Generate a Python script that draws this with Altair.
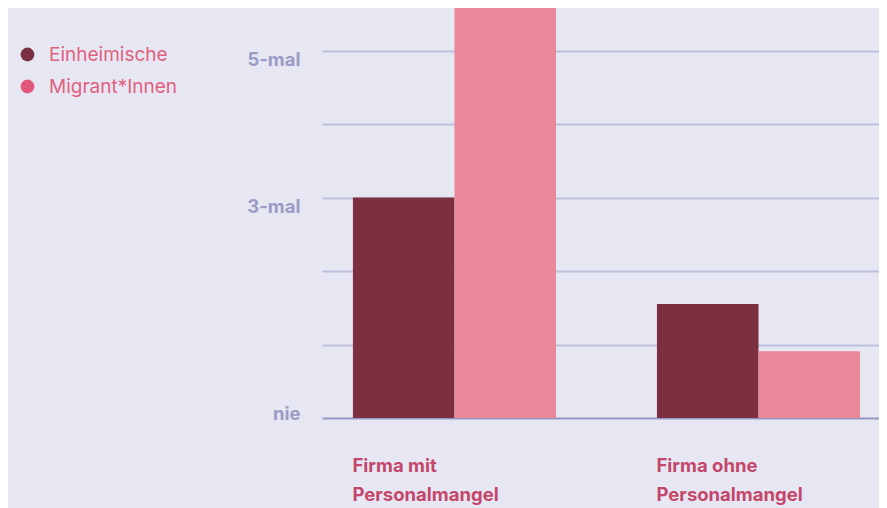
import altair as alt
import pandas as pd

groups = ["Firma mit|Personalmangel", "Firma ohne|Personalmangel"]
series = ["Einheimische", "Migrant*Innen"]
einheimische = [3.0, 1.55]
migranten = [5.58, 0.91]
y_ticks = [0, 1, 2, 3, 4, 5]
y_tick_labels = ["nie", "", "", "3-mal", "", "5-mal"]

bar_colors = ["#7b2f40", "#e9899a"]
legend_colors = ["#7a2f42", "#e0577a"]

rows = []
for g, a, b in zip(groups, einheimische, migranten):
    rows.append({"group": g, "series": series[0], "value": a})
    rows.append({"group": g, "series": series[1], "value": b})
df = pd.DataFrame(rows)

label_map = "{" + ",".join(f"'{v}':'{l}'" for v, l in zip(y_ticks, y_tick_labels)) + "}"
y_label_expr = f"{label_map}[datum.value + '']"

x_enc = alt.X(
    "group:N", sort=groups,
    scale=alt.Scale(paddingInner=0.332, paddingOuter=0.082, align=0.62),
    axis=alt.Axis(
        title=None, labelExpr="split(datum.label, '|')",
        labelAlign="left", labelBaseline="top", labelPadding=38, labelAngle=0,
        labelOffset=-102,
        labelFontSize=18.5, labelFont="Inter", labelFontWeight="bold",
        labelColor="#c4466a", labelLineHeight=29, ticks=False, domain=False, grid=False,
    ),
)
y_enc = alt.Y(
    "value:Q",
    scale=alt.Scale(domain=[0, 5.58], nice=False, zero=True),
    axis=alt.Axis(
        title=None, values=y_ticks, labelExpr=y_label_expr, grid=True,
        gridColor={"condition": {"test": "datum.value == 0", "value": "#9598c2"}, "value": "#bcc0dc"},
        gridWidth=2, ticks=False, domain=False, labelPadding=22,
        labelFontSize=18.5, labelFont="Inter", labelFontWeight="bold",
        labelColor="#9a9cc5", labelBaseline="middle",
        labelOffset={"condition": {"test": "datum.value == 0", "value": -5}, "value": 9},
    ),
)

bars = alt.Chart(df).mark_bar().encode(
    x=x_enc,
    xOffset=alt.XOffset("series:N", sort=series, scale=alt.Scale(paddingInner=0, paddingOuter=0)),
    y=y_enc,
    color=alt.Color("series:N", scale=alt.Scale(domain=series, range=bar_colors), legend=None),
)

legend_df = pd.DataFrame({"series": series, "group": [groups[0]] * 2, "value": [0, 0]})
legend_layer = alt.Chart(legend_df).mark_point(filled=True, opacity=0).encode(
    x=alt.X("group:N", sort=groups),
    y=alt.Y("value:Q"),
    color=alt.Color(
        "series:N", scale=alt.Scale(domain=series, range=legend_colors),
        legend=alt.Legend(
            title=None, orient="none", legendX=-304, legendY=37,
            symbolType="circle", symbolSize=190, symbolStrokeWidth=0, symbolOpacity=1,
            labelFontSize=19, labelFont="Inter", labelColor="#e0607e",
            rowPadding=12, labelOffset=12,
        ),
    ),
)

chart = alt.layer(bars, legend_layer).resolve_scale(color="independent").properties(
    width=557, height=410,
    autosize=alt.AutoSizeParams(type="none"),
    padding={"left": 314, "top": 0, "right": 0, "bottom": 90},
    background="#e7e7f3",
).configure_view(stroke=None)

chart.save("out.html", embed_options={"renderer": "svg", "actions": False})
